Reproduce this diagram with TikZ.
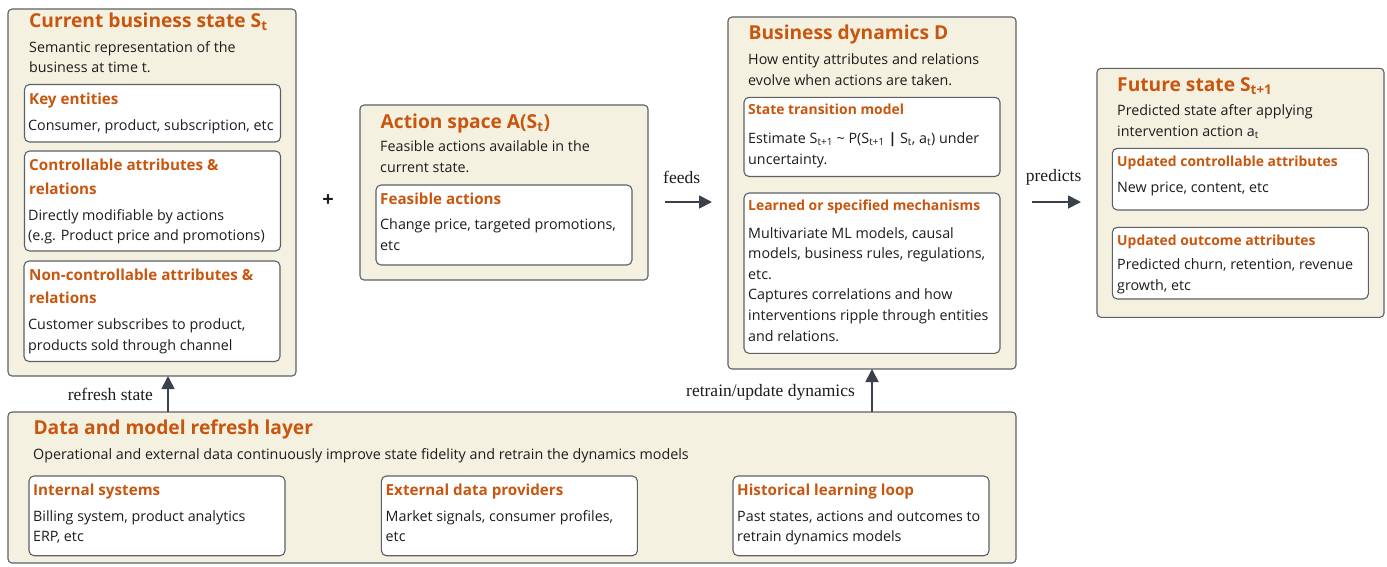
\documentclass[tikz,border=0pt]{standalone}
\usepackage{fontspec}
\setmainfont{Open Sans}
\newfontfamily\lblfont{Liberation Serif}
\usetikzlibrary{arrows.meta}
\definecolor{beige}{HTML}{F5F1E1}
\definecolor{edgec}{HTML}{5E6066}
\definecolor{orng}{HTML}{C9560F}
\definecolor{ink}{HTML}{1C1C1C}
\definecolor{arrc}{HTML}{3B414A}
\tikzset{
 outer/.style={draw=edgec, line width=1.1pt, fill=beige, rounded corners=4pt},
 inner/.style={draw=edgec, line width=1.1pt, fill=white, rounded corners=5pt},
 bigtitle/.style={anchor=base west, inner sep=0, text=orng, font=\fontsize{19.2}{22}\selectfont\bfseries},
 subtitle/.style={anchor=base west, inner sep=0, text=orng, align=left, font=\fontsize{15.2}{23.3}\selectfont\bfseries},
 smallsub/.style={anchor=base west, inner sep=0, text=orng, align=left, font=\fontsize{13.9}{20}\selectfont\bfseries},
 body/.style={anchor=base west, inner sep=0, text=ink, align=left, font=\fontsize{14.3}{20.6}\selectfont},
 lbl/.style={anchor=base west, inner sep=0, text=ink, font=\fontsize{17.5}{19}\lblfont},
 arr/.style={draw=arrc, line width=1.8pt, -{Triangle[length=13pt,width=13pt]}},
}
\begin{document}
\begin{tikzpicture}[x=1pt,y=-1pt]
\useasboundingbox (0,0) rectangle (1387,566);

% Current business state
\draw[outer] (8,9) rectangle (296,376);
\node[bigtitle] (curT) at (29,27.5) {Current business state S\textsubscript{t}};
\node[body] (curD) at (29,72.7) {Semantic representation of the\\business at time t.};
\draw[inner] (24.5,84.5) rectangle (280.5,142);
\node[subtitle] (keyT) at (29,104.3) {Key entities};
\node[body] (keyB) at (28,130.7) {Consumer, product, subscription, etc};
\draw[inner] (24.5,151) rectangle (280.5,251);
\node[subtitle] (ctlT) at (29,194) {Controllable attributes \&\\relations};
\node[body] (ctlB) at (28,240.7) {Directly modifiable by actions\\(e.g. Product price and promotions)};
\draw[inner] (24,261) rectangle (280,361.5);
\node[subtitle] (ncT) at (29,303.3) {Non-controllable attributes \&\\relations};
\node[body] (ncB) at (28,350.3) {Customer subscribes to product,\\products sold through channel};

\node[anchor=center, inner sep=0, font=\fontsize{20}{20}\selectfont\bfseries, text=ink] (plus) at (328,201) {+};

% Action space
\draw[outer] (360,105) rectangle (648,280);
\node[bigtitle] (actT) at (380.5,128.3) {Action space A(S\textsubscript{t})};
\node[body] (actD) at (380,172.3) {Feasible actions available in the\\current state.};
\draw[inner] (376,185) rectangle (632,265);
\node[subtitle] (feaT) at (380,204.3) {Feasible actions};
\node[body] (feaB) at (380,250) {Change price, targeted promotions,\\etc};

% Business dynamics
\draw[outer] (728,17) rectangle (1016,369);
\node[bigtitle] (dynT) at (748.5,39.3) {Business dynamics D};
\node[body] (dynD) at (748,85) {How entity attributes and relations\\evolve when actions are taken.};
\draw[inner] (744,97.3) rectangle (1000,176.5);
\node[smallsub] (stmT) at (748,114) {State transition model};
\node[body] (stmB) at (748,164.3) {Estimate S\textsubscript{t+1} \textasciitilde{} P(S\textsubscript{t+1} \textbf{|} S\textsubscript{t}, a\textsubscript{t}) under\\uncertainty.};
\draw[inner] (744,193) rectangle (1000,353.3);
\node[smallsub] (lrnT) at (748,210.7) {Learned or specified mechanisms};
\node[body] (lrnB) at (748,341) {Multivariate ML models, causal\\models, business rules, regulations,\\etc.\\Captures correlations and how\\interventions ripple through entities\\and relations.};

% Future state
\draw[outer] (1097,68.3) rectangle (1384,317.3);
\node[bigtitle] (futT) at (1117,91) {Future state S\textsubscript{t+1}};
\node[body] (futD) at (1117,136) {Predicted state after applying\\intervention action a\textsubscript{t}};
\draw[inner] (1112.3,148.3) rectangle (1368.3,210);
\node[smallsub] (ucaT) at (1117,166) {Updated controllable attributes};
\node[body] (ucaB) at (1117,192.3) {New price, content, etc};
\draw[inner] (1112.3,227.3) rectangle (1368.3,299);
\node[smallsub] (uoaT) at (1117,245) {Updated outcome attributes};
\node[body] (uoaB) at (1117,290) {Predicted churn, retention, revenue\\growth, etc};

% Data layer
\draw[outer] (8,412) rectangle (1016,563);
\node[bigtitle] (datT) at (33.3,434.3) {Data and model refresh layer};
\node[body] (datD) at (33,459) {Operational and external data continuously improve state fidelity and retrain the dynamics models};
\draw[inner] (29,476) rectangle (285,555.7);
\node[subtitle] (intT) at (33,495) {Internal systems};
\node[body] (intB) at (33,541.7) {Billing system, product analytics\\ERP, etc};
\draw[inner] (381.4,476) rectangle (637.4,555.7);
\node[subtitle] (extT) at (385.5,495) {External data providers};
\node[body] (extB) at (385.5,541.7) {Market signals, consumer profiles,\\etc};
\draw[inner] (733,476) rectangle (989,555.7);
\node[subtitle] (hisT) at (737,495) {Historical learning loop};
\node[body] (hisB) at (737,541.7) {Past states, actions and outcomes to\\retrain dynamics models};

% connectors
\coordinate (feedA) at (665,202);
\coordinate (feedB) at (712,202);
\draw[arr] (feedA) -- (feedB);
\node[lbl] (feeds) at (663,183) {feeds};
\coordinate (predA) at (1032,202);
\coordinate (predB) at (1081,202);
\draw[arr] (predA) -- (predB);
\node[lbl] (pred) at (1025.7,181.7) {predicts};
\coordinate (refA) at (168,412);
\coordinate (refB) at (168,376);
\draw[arr] (refA) -- (refB);
\node[lbl] (refl) at (67.7,400.7) {refresh state};
\coordinate (retA) at (872,412);
\coordinate (retB) at (872,369);
\draw[arr] (retA) -- (retB);
\node[lbl] (retl) at (686,396) {retrain/update dynamics};
\end{tikzpicture}
\end{document}
